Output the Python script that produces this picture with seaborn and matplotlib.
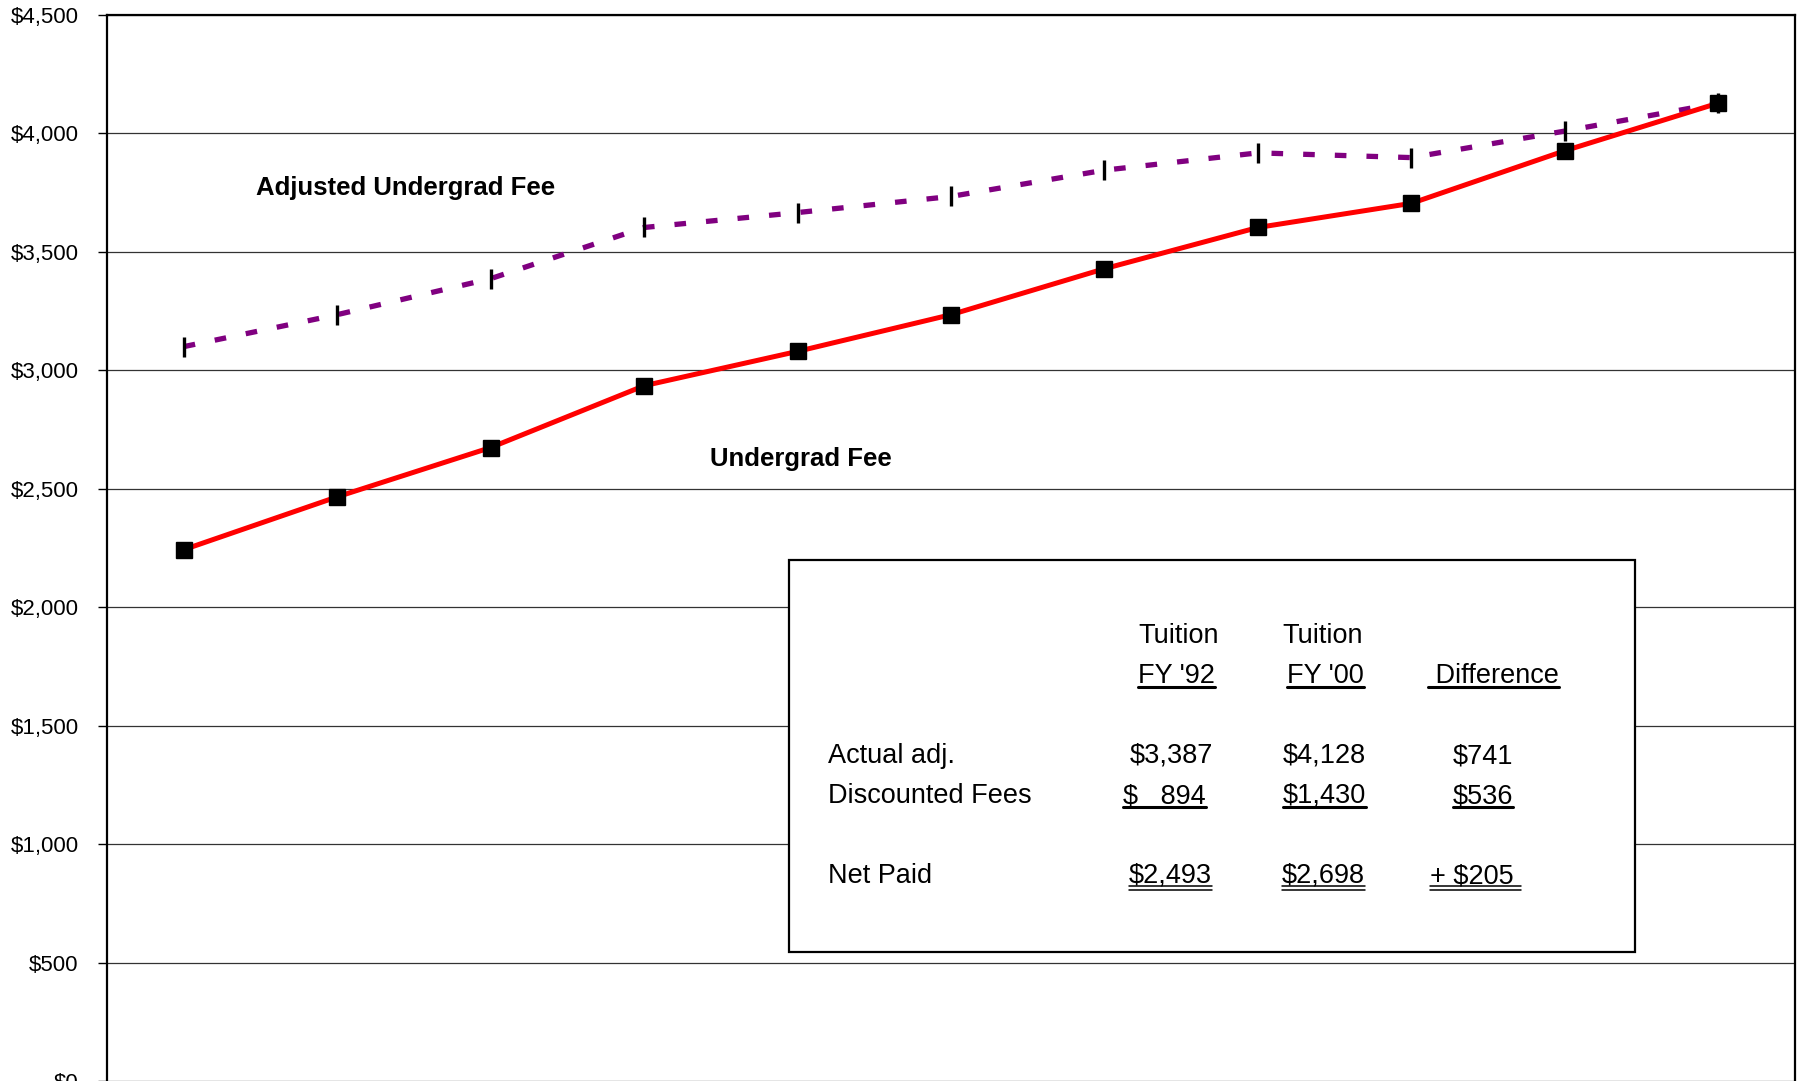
import pandas as pd
import seaborn as sns
import matplotlib.pyplot as plt
from matplotlib import font_manager
from matplotlib.lines import Line2D
from matplotlib.patches import Rectangle

# data (fiscal years 1990 - 2000)
years = [1990, 1991, 1992, 1993, 1994, 1995, 1996, 1997, 1998, 1999, 2000]
undergrad_fee = [2243, 2466, 2674, 2935, 3080, 3235, 3429, 3603, 3705, 3927, 4128]
adjusted_fee = [3100, 3235, 3387, 3603, 3666, 3734, 3845, 3918, 3898, 4010, 4128]

y_ticks = [0, 500, 1000, 1500, 2000, 2500, 3000, 3500, 4000, 4500]
y_tick_labels = ['$0', '$500', '$1,000', '$1,500', '$2,000',
                 '$2,500', '$3,000', '$3,500', '$4,000', '$4,500']

# summary table inside the chart
header_top = ['Tuition', 'Tuition']
header_bottom = ["FY '92", "FY '00", ' Difference']
row_labels = ['Actual adj.', 'Discounted Fees', 'Net Paid']
col_fy92 = ['$3,387', '$   894', '$2,493']
col_fy00 = ['$4,128', '$1,430', '$2,698']
col_diff = ['$741', '$536', '+ $205 ']
underlines = [0, 1, 2]  # none / single / double, per row

####

W, H = 1799, 1081


def fx(x):
    return x / W


def fy(y):
    return 1 - y / H


sns.set_style('white', {'text.color': 'black', 'axes.labelcolor': 'black',
                        'xtick.color': 'black', 'ytick.color': 'black'})
names = {f.name for f in font_manager.fontManager.ttflist}
narrow = 'Liberation Sans Narrow' if 'Liberation Sans Narrow' in names else 'Liberation Sans'
plt.rcParams['font.family'] = [narrow, 'DejaVu Sans']
plt.rcParams['text.color'] = 'black'

df = pd.DataFrame({'year': years, 'Undergrad Fee': undergrad_fee,
                   'Adjusted Undergrad Fee': adjusted_fee})

fig = plt.figure(figsize=(W / 100, H / 100), dpi=100)
ax = fig.add_axes([fx(107), 0.0, fx(1795) - fx(107), fy(15)])

sns.lineplot(data=df, x='year', y='Adjusted Undergrad Fee', ax=ax, color='#800080',
             lw=3.8, linestyle=(0, (2.2, 3.8)), marker='|', markersize=15,
             markeredgewidth=2.4, markeredgecolor='black', zorder=3)
sns.lineplot(data=df, x='year', y='Undergrad Fee', ax=ax, color='red',
             lw=3.6, marker='s', markersize=11, markerfacecolor='black',
             markeredgewidth=1, markeredgecolor='black', zorder=4)

ax.set_xlim(years[0] - 0.5, years[-1] + 0.5)
ax.set_ylim(0, 4500)
ax.set_yticks(y_ticks)
ax.set_yticklabels(y_tick_labels, fontsize=16, color='black')
ax.set_xticks([])
ax.set_xlabel('')
ax.set_ylabel('')
ax.tick_params(axis='y', left=True, length=6.5, width=1, pad=14, color='black')
ax.yaxis.grid(True, color='#333333', lw=0.9)
ax.set_axisbelow(True)
for side in ['left', 'top', 'right']:
    ax.spines[side].set_visible(True)
    ax.spines[side].set_color('black')
    ax.spines[side].set_linewidth(1.6)
ax.spines['bottom'].set_visible(False)

ax.text(years[0] + 0.47, 3740, 'Adjusted Undergrad Fee', fontsize=18.5,
        fontweight='bold', ha='left', va='baseline', color='black')
ax.text(years[0] + 3.43, 2595, 'Undergrad Fee', fontsize=18.5,
        fontweight='bold', ha='left', va='baseline', color='black')

# table box
fig.add_artist(Rectangle((fx(789), fy(952)), fx(1635) - fx(789), fy(560) - fy(952),
                         transform=fig.transFigure, facecolor='white',
                         edgecolor='black', lw=1.6, zorder=5))

texts = []


def put(x, y, s, n_under=0):
    t = fig.text(fx(x), fy(y), s, fontsize=19.5, ha='left', va='baseline',
                 color='black', zorder=6)
    texts.append((t, y, n_under))


put(1138, 643, header_top[0])
put(1282, 643, header_top[1])
for x, s in zip([1138, 1287, 1428], header_bottom):
    put(x, 683, s, 1)

row_base = [763, 803, 883]
col_x = [(1130, 1283, 1453), (1123, 1283, 1453), (1129, 1282, 1430)]
for i, lab in enumerate(row_labels):
    put(828, row_base[i], lab)
    put(col_x[i][0], row_base[i], col_fy92[i], underlines[i])
    put(col_x[i][1], row_base[i], col_fy00[i], underlines[i])
    put(col_x[i][2], row_base[i], col_diff[i], underlines[i])

fig.canvas.draw()
renderer = fig.canvas.get_renderer()
for t, y, n in texts:
    if n == 0:
        continue
    bb = t.get_window_extent(renderer)
    x0, x1 = bb.x0 / W, bb.x1 / W
    offs = [4] if n == 1 else [3, 6.5]
    for o in offs:
        fig.add_artist(Line2D([x0, x1], [fy(y + o), fy(y + o)], transform=fig.transFigure,
                              color='black', lw=2.2 if n == 1 else 1.1, zorder=6))

plt.savefig('out.png', dpi=100, facecolor='white')
plt.close(fig)
